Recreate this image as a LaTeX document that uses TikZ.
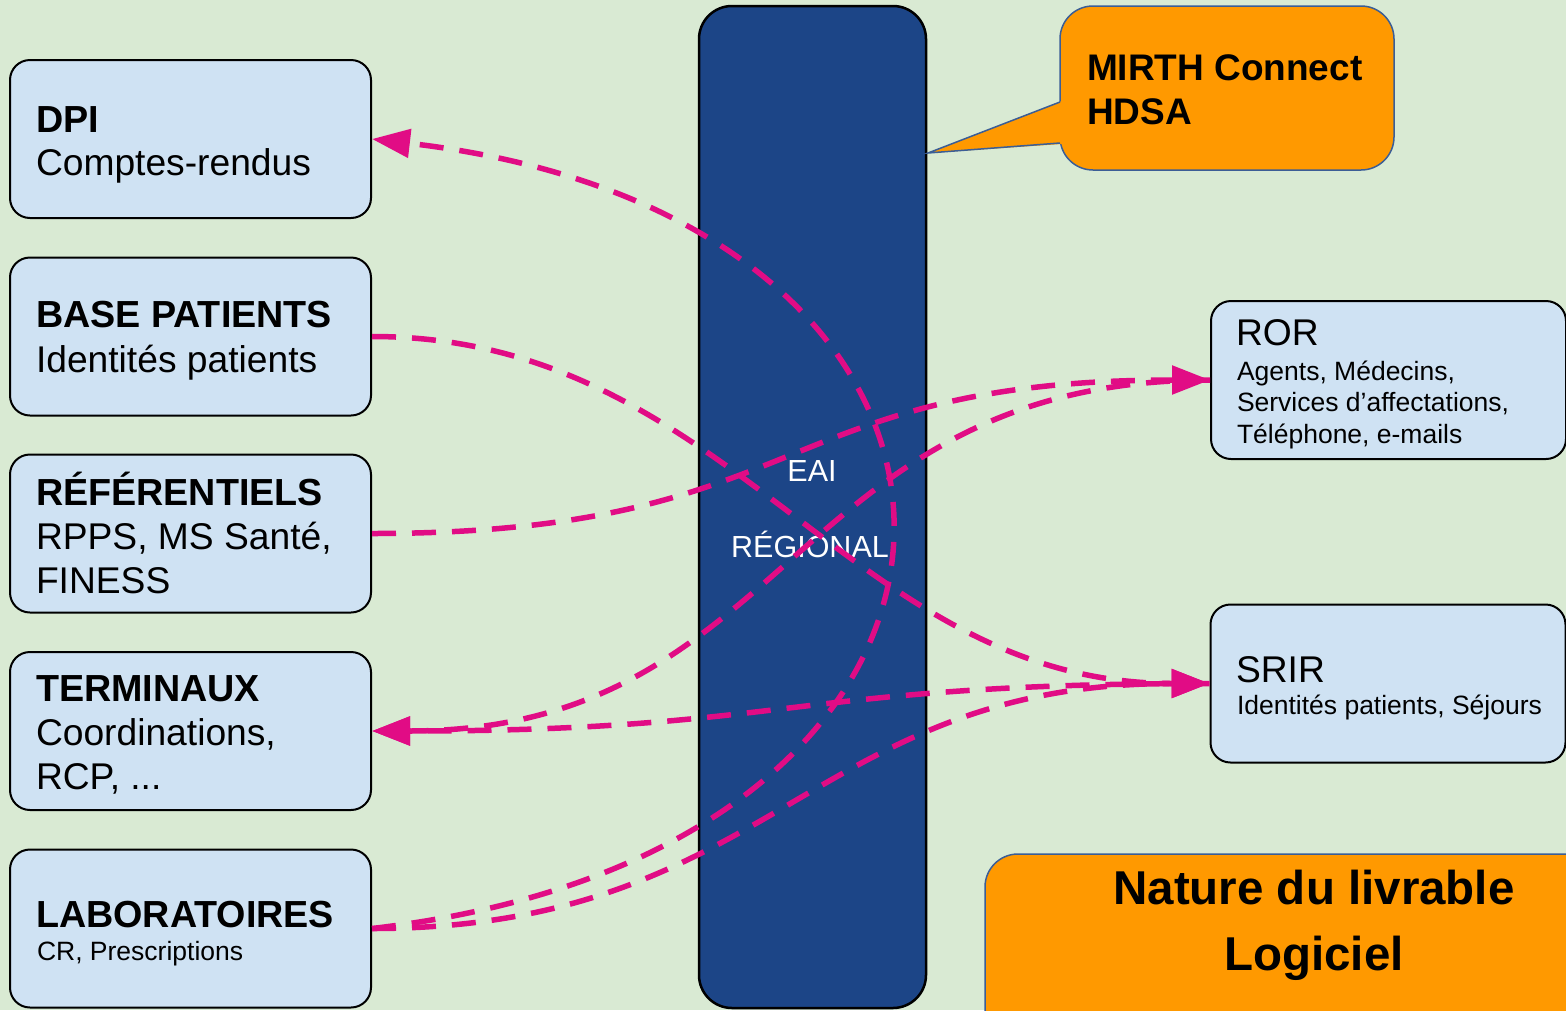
\documentclass[tikz,border=0pt]{standalone}
\usepackage{fontspec}
\setmainfont{Liberation Sans}
\usetikzlibrary{arrows.meta}
\definecolor{bgc}{HTML}{D9EAD3}
\definecolor{boxc}{HTML}{CFE2F3}
\definecolor{barc}{HTML}{1C4587}
\definecolor{orc}{HTML}{FF9900}
\definecolor{cbord}{HTML}{3B5E96}
\definecolor{mag}{HTML}{E10C85}
\begin{document}
\begin{tikzpicture}[x=1pt,y=-1pt,
  box/.style={draw=black,line width=2pt,fill=boxc,rounded corners=20pt,minimum width=361pt,minimum height=158pt,inner sep=0pt},
  rbox/.style={box,minimum width=355pt},
  obox/.style={draw=cbord,line width=1.5pt,fill=orc,rounded corners=33pt,inner sep=0pt},
  txt/.style={anchor=base west,inner sep=0pt,outer sep=0pt},
  ctxt/.style={anchor=base,inner sep=0pt,outer sep=0pt},
  big/.style={font=\fontsize{37.2}{44}\selectfont},
  bigb/.style={font=\fontsize{37.7}{44}\selectfont\bfseries},
  small/.style={font=\fontsize{26.5}{32}\selectfont},
  link/.style={draw=mag,line width=5.5pt,dash pattern=on 24pt off 16pt},
  tipend/.style={-{Triangle[length=38pt,width=28pt]}}
]
\useasboundingbox (0,0) rectangle (1566,1010);
\clip (0,0) rectangle (1566,1010);
\fill[bgc] (0,0) rectangle (1566,1010);

% EAI bar
\node[draw=black,line width=2.5pt,fill=barc,rounded corners=33pt,minimum width=227pt,minimum height=1002pt,inner sep=0pt] (eai) at (812.5,507) {};
\node[ctxt,font=\fontsize{30.5}{36}\selectfont,text=white] (eai1) at (812,481) {EAI};
\node[ctxt,font=\fontsize{30.5}{36}\selectfont,text=white] (eai2) at (810,557) {RÉGIONAL};

% left boxes
\node[box] (dpi) at (190.5,139) {};
\node[txt,bigb] (dpi1) at (36,132) {DPI};
\node[txt,big] (dpi2) at (36,175) {Comptes-rendus};

\node[box] (base) at (190.5,336.5) {};
\node[txt,bigb] (base1) at (36,327) {BASE PATIENTS};
\node[txt,big] (base2) at (36,372) {Identités patients};

\node[box] (ref) at (190.5,533.5) {};
\node[txt,bigb] (ref1) at (36,505) {RÉFÉRENTIELS};
\node[txt,big] (ref2) at (36,549) {RPPS, MS Santé,};
\node[txt,big] (ref3) at (36,593) {FINESS};

\node[box] (term) at (190.5,731) {};
\node[txt,bigb] (term1) at (36,701) {TERMINAUX};
\node[txt,big] (term2) at (36,745) {Coordinations,};
\node[txt,big] (term3) at (36,789) {RCP, ...};

\node[box] (lab) at (190.5,928.5) {};
\node[txt,bigb] (lab1) at (36,927) {LABORATOIRES};
\node[txt,small] (lab2) at (37,960) {CR, Prescriptions};

% right boxes
\node[rbox] (ror) at (1388.5,380) {};
\node[txt,big] (ror1) at (1236,345) {ROR};
\node[txt,small] (ror2) at (1237,380) {Agents, Médecins,};
\node[txt,small] (ror3) at (1237,411.5) {Services d’affectations,};
\node[txt,small] (ror4) at (1237,443) {Téléphone, e-mails};

\node[rbox] (srir) at (1388,683.5) {};
\node[txt,big] (srir1) at (1236,682) {SRIR};
\node[txt,small] (srir2) at (1237,714) {Identités patients, Séjours};

% MIRTH callout
\node[obox,minimum width=334pt,minimum height=164pt] (mirth) at (1227,88) {};
\coordinate (mtip) at (928,153);
\fill[orc] (1062,101) -- (mtip) -- (1062,144) -- cycle;
\draw[cbord,line width=1.5pt,line join=miter] (1060,102) -- (mtip) -- (1060,143);
\node[txt,bigb,font=\fontsize{37}{44}\selectfont\bfseries] (mirth1) at (1087,80) {MIRTH Connect};
\node[txt,bigb,font=\fontsize{37}{44}\selectfont\bfseries] (mirth2) at (1087,124) {HDSA};

% Nature du livrable
\node[obox,minimum width=700pt,minimum height=300pt] (nat) at (1335,1004) {};
\node[ctxt,font=\fontsize{47.5}{56}\selectfont\bfseries] (nat1) at (1314,904) {Nature du livrable};
\node[ctxt,font=\fontsize{47.5}{56}\selectfont\bfseries] (nat2) at (1314,970) {Logiciel};

% links
\draw[link,tipend] (lab.east) .. controls +(690,-80) and +(690,80) .. (dpi.east);
\draw[link,tipend] (base.east) .. controls +(360,0) and +(-360,0) .. (srir.west);
\draw[link,tipend] (ref.east) .. controls +(440,0) and +(-440,0) .. (ror.west);
\draw[link,tipend] (ror.west) .. controls +(-420,0) and +(420,0) .. (term.east);
\draw[link,tipend] (srir.west) .. controls +(-420,0) and +(420,0) .. (term.east);
\draw[link,tipend] (lab.east) .. controls +(400,0) and +(-400,0) .. (srir.west);
\end{tikzpicture}
\end{document}
